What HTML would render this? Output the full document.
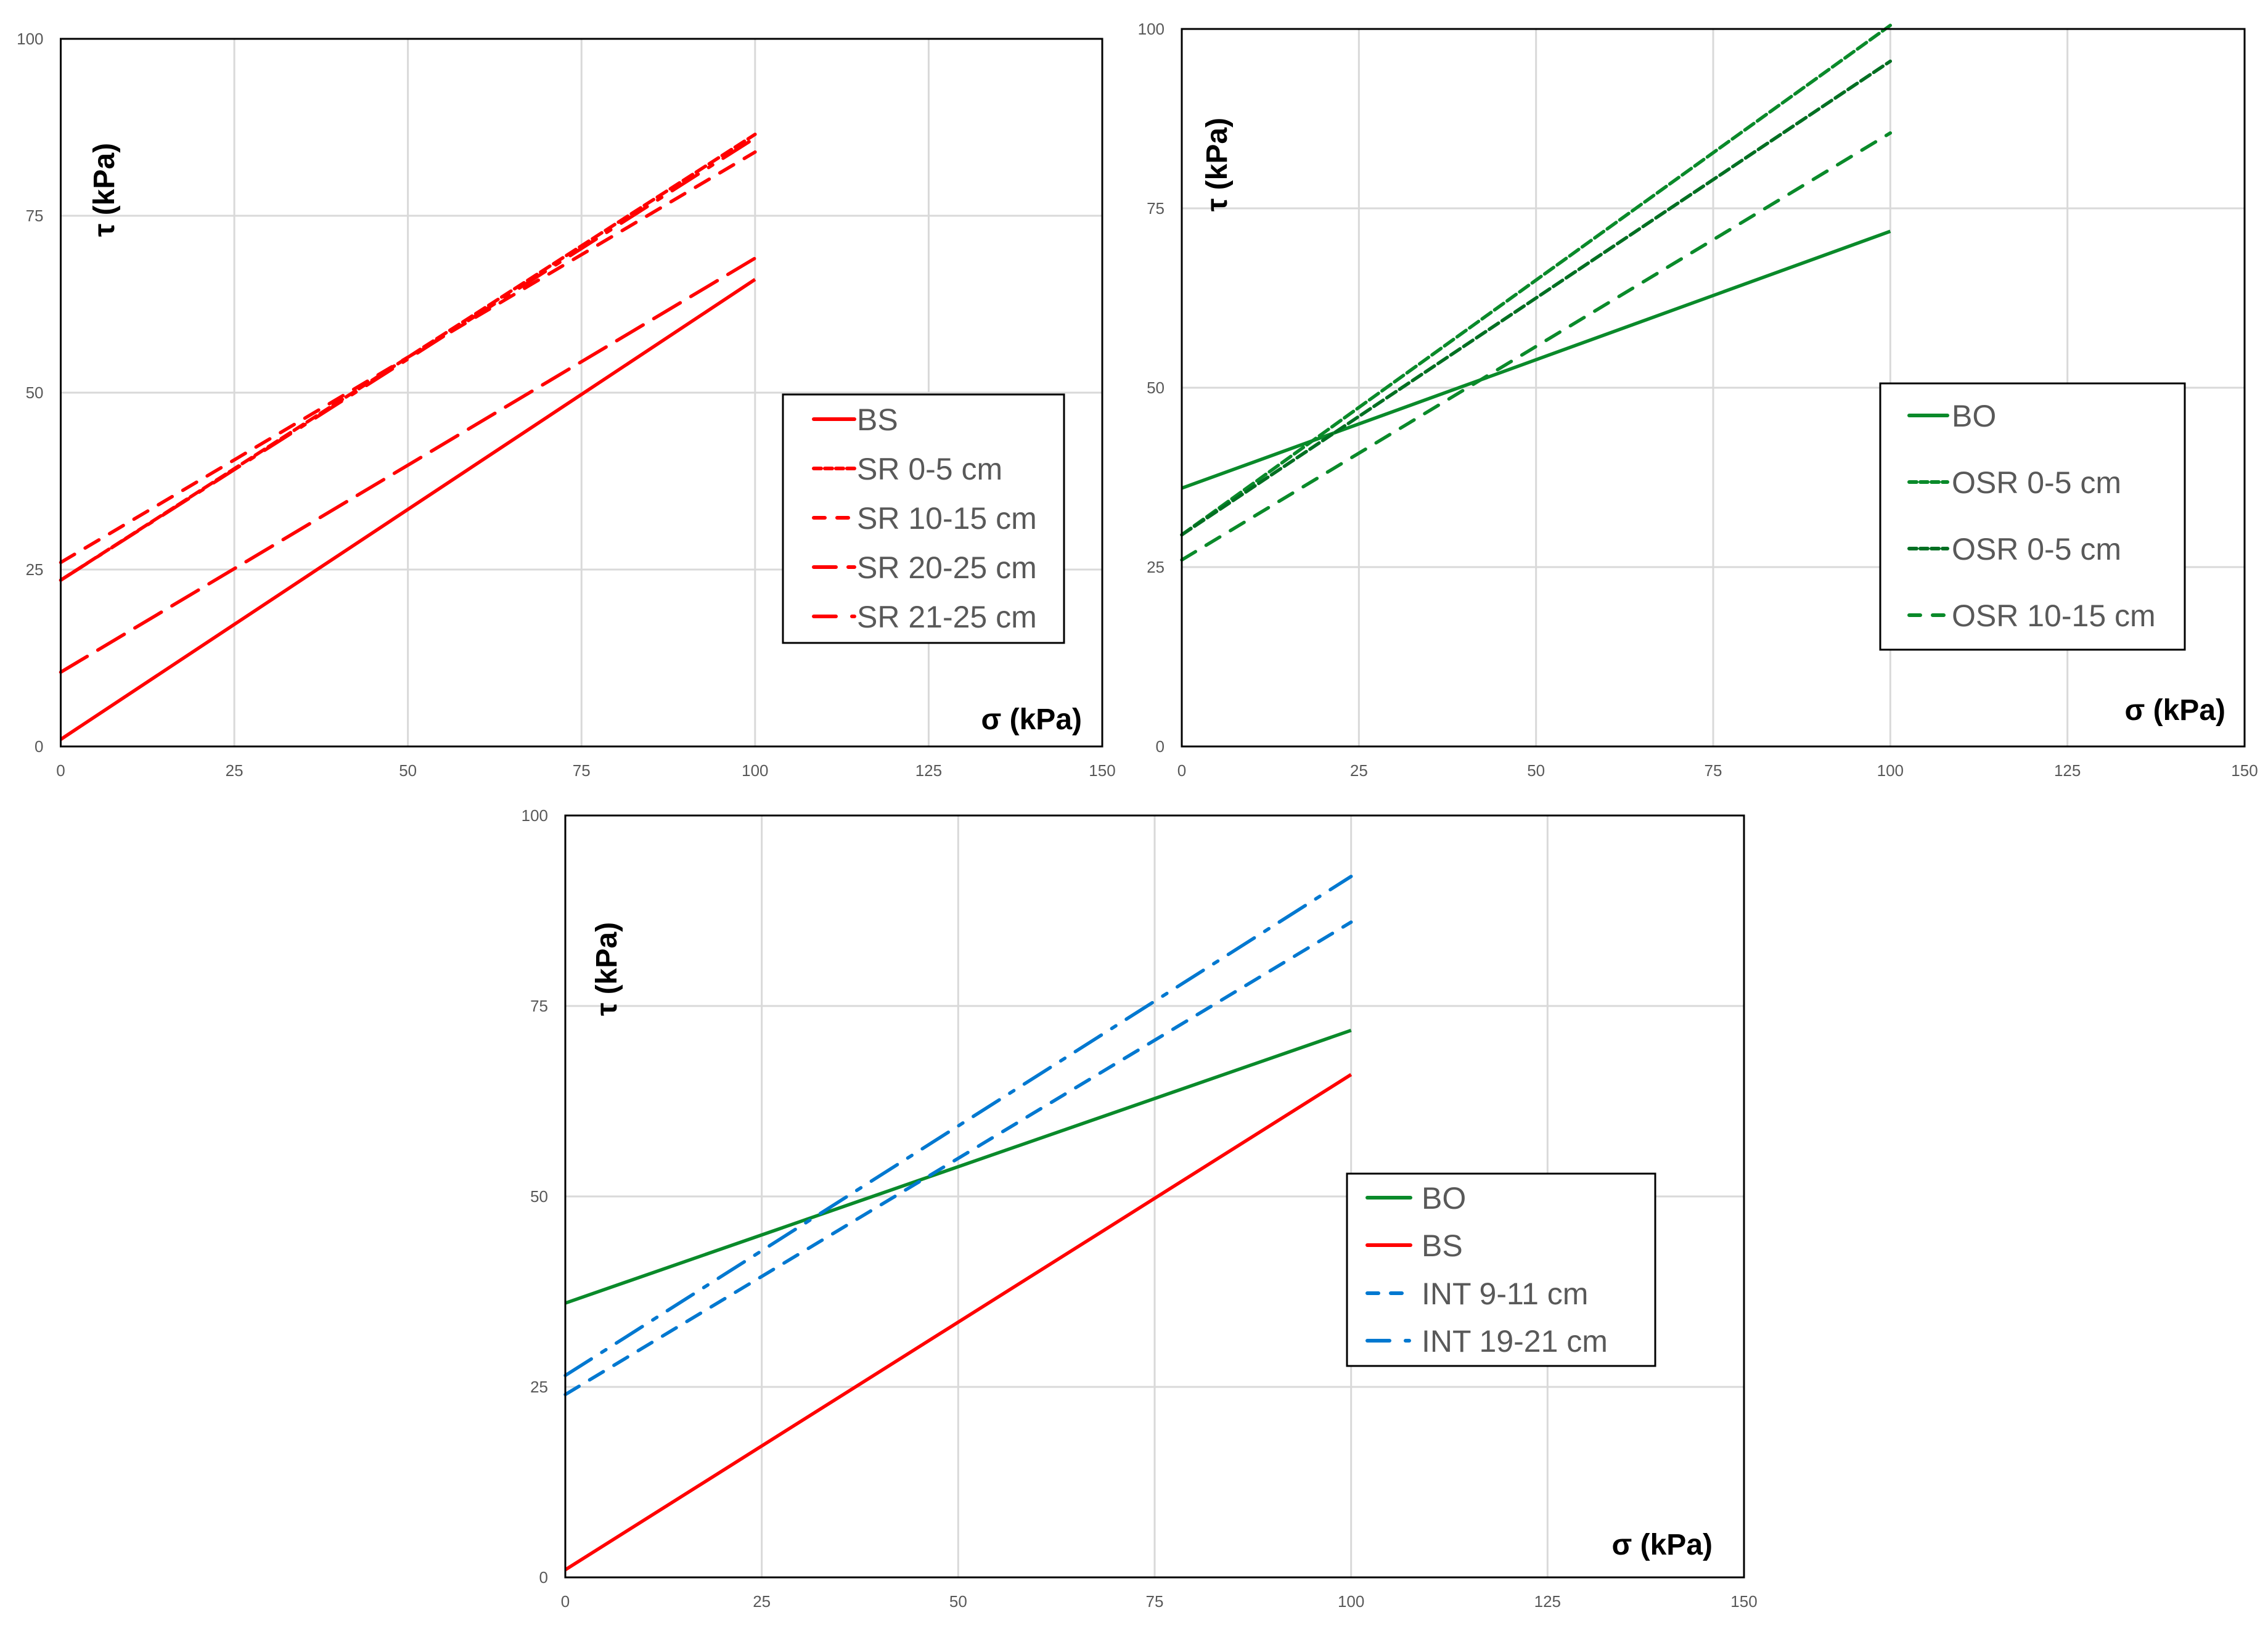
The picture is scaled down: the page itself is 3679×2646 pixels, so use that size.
<!DOCTYPE html>
<html><head><meta charset="utf-8"><style>
html,body{margin:0;padding:0;background:#fff;}
svg{display:block;font-family:"Liberation Sans",Arial,sans-serif;}
</style></head><body>
<svg id="fig" xmlns="http://www.w3.org/2000/svg" width="3679" height="2646" viewBox="0 0 3679 2646"></svg>
<script>
// ---- data ----
const xTicks = [0, 25, 50, 75, 100, 125, 150];
const yTicks = [0, 25, 50, 75, 100];
const lineX = [0, 100];

const c1Names = ["BS", "SR 0-5 cm", "SR 10-15 cm", "SR 20-25 cm", "SR 21-25 cm"];
const c1BS = [1, 66];
const c1SR05 = [23.5, 86.5];
const c1SR1015 = [26, 84];
const c1SR2025 = [10.5, 69];
const c1SR2125 = [23.5, 86];

const c2Names = ["BO", "OSR 0-5 cm", "OSR 0-5 cm", "OSR 10-15 cm"];
const c2BO = [36, 71.8];
const c2OSRa = [29.5, 100.5];
const c2OSRb = [29.5, 95.5];
const c2OSR1015 = [26, 85.5];

const c3Names = ["BO", "BS", "INT 9-11 cm", "INT 19-21 cm"];
const c3BO = [36, 71.8];
const c3BS = [1, 66];
const c3INT911 = [24, 86];
const c3INT1921 = [26.5, 92];

const NS = "http://www.w3.org/2000/svg";
const svg = document.getElementById("fig");
function el(tag, attrs, parent) {
  const e = document.createElementNS(NS, tag);
  for (const k in attrs) e.setAttribute(k, attrs[k]);
  (parent || svg).appendChild(e);
  return e;
}
const RED = "#ff0000", GREEN = "#0a8a2a", DGREEN = "#006f22", BLUE = "#0078d0";
const D = {solid: "", sysDash: "18 7", dash: "26 20", longDash: "50 20", longDashDot: "50 20 8 20"};
const LD = {solid: "", sysDash: "12 6", dash: "18 20", longDash: "36 20 10 20", longDashDot: "36 26 6 30"};

function chart(cfg) {
  const g = el("g", {});
  
  
  const L = cfg.x0, R = cfg.x1, T = cfg.y0, B = cfg.y1;
  const sx = v => L + (v - 0) / 150 * (R - L);
  const sy = v => B - (v - 0) / 100 * (B - T);
  xTicks.forEach(t => {
    const ln = el("line", {x1: sx(t), x2: sx(t), y1: T, y2: B, stroke: "#d9d9d9", "stroke-width": 3}, g);
    
    
    const tx = el("text", {x: sx(t), y: B + 48, "text-anchor": "middle", "font-size": 26, fill: "#595959"}, g);
    
    
    tx.textContent = t;
  });
  yTicks.forEach(t => {
    const ln = el("line", {x1: L, x2: R, y1: sy(t), y2: sy(t), stroke: "#d9d9d9", "stroke-width": 3}, g);
    
    
    const tx = el("text", {x: L - 28, y: sy(t) + 9, "text-anchor": "end", "font-size": 26, fill: "#595959"}, g);
    
    
    tx.textContent = t;
  });
  cfg.series.forEach(s => {
    const p = el("line", {x1: sx(lineX[0]), y1: sy(s.v[0]), x2: sx(lineX[1]), y2: sy(s.v[1]), stroke: s.c, "stroke-width": 5.5, "stroke-dasharray": D[s.d], "stroke-linecap": s.d === "solid" ? "butt" : "round"}, g);
    
    
  });
  const bd = el("rect", {x: L, y: T, width: R - L, height: B - T, fill: "none", stroke: "#000", "stroke-width": 3}, g);
  
  
  const yt = el("text", {x: 0, y: 0, "font-size": 48, "font-weight": "bold", fill: "#000", "text-anchor": "middle", transform: `translate(${cfg.yt[0]},${cfg.yt[1]}) rotate(-90)`}, g);
  
  
  yt.textContent = "τ (kPa)";
  const xt = el("text", {x: cfg.xt[0], y: cfg.xt[1], "font-size": 48, "font-weight": "bold", fill: "#000", "text-anchor": "end"}, g);
  
  
  xt.textContent = "σ (kPa)";
  const lg = cfg.legend;
  const lgG = el("g", {}, g);
  
  
  el("rect", {x: lg.x, y: lg.y, width: lg.w, height: lg.h, fill: "#fff", stroke: "#000", "stroke-width": 3}, lgG);
  cfg.series.forEach((s, i) => {
    const cy = lg.rows[i];
    const e = el("g", {}, lgG);
    
    
    el("line", {x1: lg.sx, x2: lg.sx + lg.sw, y1: cy, y2: cy, stroke: s.c, "stroke-width": 6, "stroke-dasharray": LD[s.d], "stroke-linecap": "round"}, e);
    const t = el("text", {x: lg.tx, y: cy + 18, "font-size": 50, fill: "#595959"}, e);
    t.textContent = cfg.names[i];
  });
}

chart({name: "chart-sr", x0: 98.5, x1: 1788, y0: 63, y1: 1211, names: c1Names,
  series: [
    {id: "line-bs", v: c1BS, c: RED, d: "solid"},
    {id: "line-sr-0-5", v: c1SR05, c: RED, d: "sysDash"},
    {id: "line-sr-10-15", v: c1SR1015, c: RED, d: "dash"},
    {id: "line-sr-20-25", v: c1SR2025, c: RED, d: "longDash"},
    {id: "line-sr-21-25", v: c1SR2125, c: RED, d: "longDashDot"}],
  yt: [185, 308], xt: [1755, 1183],
  legend: {x: 1270, y: 640, w: 456, h: 403, rows: [680, 760, 840, 920, 1000], sx: 1320, sw: 66, tx: 1390}});

chart({name: "chart-osr", x0: 1917, x1: 3641, y0: 47, y1: 1211, names: c2Names,
  series: [
    {id: "line-bo", v: c2BO, c: GREEN, d: "solid"},
    {id: "line-osr-0-5-a", v: c2OSRa, c: GREEN, d: "sysDash"},
    {id: "line-osr-0-5-b", v: c2OSRb, c: DGREEN, d: "sysDash"},
    {id: "line-osr-10-15", v: c2OSR1015, c: GREEN, d: "dash"}],
  yt: [1990, 267], xt: [3610, 1168],
  legend: {x: 3050, y: 622, w: 494, h: 432, rows: [674, 782, 890, 998], sx: 3097, sw: 62, tx: 3166}});

chart({name: "chart-int", x0: 917, x1: 2829, y0: 1323, y1: 2559, names: c3Names,
  series: [
    {id: "line-bo", v: c3BO, c: GREEN, d: "solid"},
    {id: "line-bs", v: c3BS, c: RED, d: "solid"},
    {id: "line-int-9-11", v: c3INT911, c: BLUE, d: "dash"},
    {id: "line-int-19-21", v: c3INT1921, c: BLUE, d: "longDashDot"}],
  yt: [1000, 1572], xt: [2778, 2522],
  legend: {x: 2185, y: 1904, w: 500, h: 312, rows: [1943, 2020, 2098, 2175], sx: 2218, sw: 70, tx: 2306}});
</script>
</body></html>
